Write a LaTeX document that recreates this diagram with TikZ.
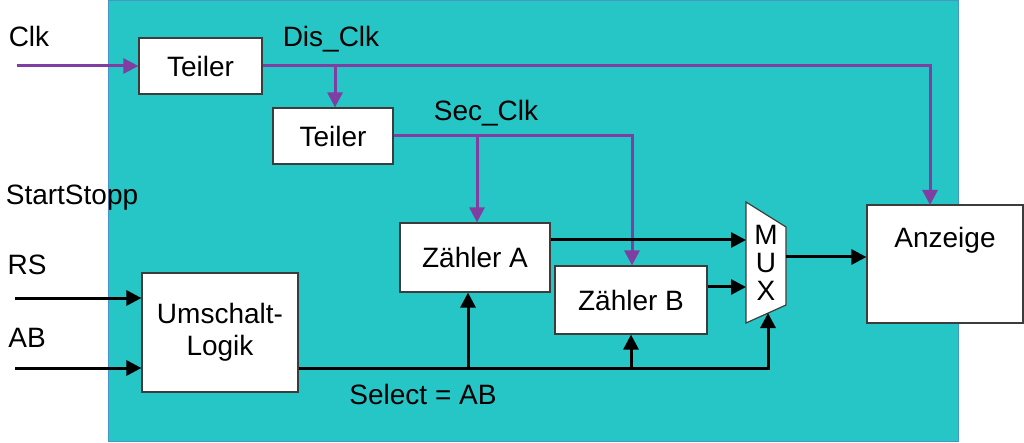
\documentclass[tikz,border=0pt]{standalone}
\usepackage{fontspec}
\setmainfont{Liberation Sans}
\usetikzlibrary{arrows.meta}

\definecolor{tealbg}{RGB}{38,198,198}
\definecolor{tealedge}{RGB}{70,150,200}
\definecolor{clkviolet}{RGB}{128,62,162}
\definecolor{boxedge}{RGB}{60,60,60}

\tikzset{
  blk/.style={draw=boxedge, line width=1.2pt, fill=white, inner sep=0pt},
  wire/.style={line width=3pt},
  sig/.style={wire, -{Triangle[length=15pt,width=15pt]}},
  clk/.style={sig, clkviolet},
  lbl/.style={anchor=base, inner sep=0pt}
}

\begin{document}
\begin{tikzpicture}[x=1pt, y=-1pt, font=\fontsize{28}{32}\selectfont]
  \useasboundingbox (0,0) rectangle (1024,443);

  % Gehaeuse
  \draw[fill=tealbg, draw=tealedge, line width=1pt] (108,1) rectangle (958,441);

  % Bloecke
  \node[blk, minimum width=123pt, minimum height=56pt] (teil1) at (200.5,66) {Teiler};
  \node[blk, minimum width=120pt, minimum height=56pt] (teil2) at (333,136) {Teiler};
  \node[blk, minimum width=150pt, minimum height=69pt] (zaehla) at (475,257.5) {Zähler A};
  \node[blk, minimum width=152pt, minimum height=68pt] (zaehlb) at (631,300) {Zähler B};
  \node[blk, minimum width=156pt, minimum height=119pt, align=center] (umsch) at (220,332.5) {Umschalt-\\Logik};
  \node[blk, minimum width=156pt, minimum height=118pt] (anz) at (945,264) {};
  \node[lbl] (anztxt) at (945,248) {Anzeige};

  % MUX
  \draw[blk] (746,202) -- (786,227) -- (786,305) -- (746,323) -- cycle;
  \node[inner sep=0pt, align=center, font=\fontsize{28}{28}\selectfont] (mux) at (766,262.5) {M\\U\\X};

  % Ein- und Abgriffe
  \coordinate (clkin) at (17,66);
  \coordinate (rsin) at (15,298);
  \coordinate (abin) at (15,368);
  \coordinate (muxa) at (746,240);
  \coordinate (muxb) at (746,287);
  \coordinate (muxout) at (786,257);
  \coordinate (muxsel) at (768,313);
  \coordinate (anzclk) at (930,205);
  \coordinate (clka) at (477,136);
  \coordinate (clkb) at (632,136);
  \coordinate (sela) at (468,368);
  \coordinate (selb) at (631,368);

  % Takte
  \draw[clk] (clkin) -- (teil1.west);
  \draw[clk] (teil1.east) -| (anzclk);
  \draw[clk] (teil1.east -| 335,0) -- (335,0 |- teil2.north);
  \draw[clk] (teil2.east) -| (clkb |- zaehlb.north);
  \draw[clk] (clka) -- (clka |- zaehla.north);

  % Daten
  \draw[sig] (zaehla.east |- muxa) -- (muxa);
  \draw[sig] (zaehlb.east |- muxb) -- (muxb);
  \draw[sig] (muxout) -- (muxout -| anz.west);
  \draw[sig] (rsin) -- (rsin -| umsch.west);
  \draw[sig] (abin) -- (abin -| umsch.west);

  % Select
  \draw[sig] (umsch.east |- abin) -| (muxsel);
  \draw[sig] (sela) -- (sela |- zaehla.south);
  \draw[sig] (selb) -- (selb |- zaehlb.south);

  % Beschriftung
  \node[lbl] (clklbl) at (29,47) {Clk};
  \node[lbl] (dislbl) at (331,47) {Dis\_Clk};
  \node[lbl] (seclbl) at (486,121) {Sec\_Clk};
  \node[lbl] (sslbl) at (72,205) {StartStopp};
  \node[lbl] (rslbl) at (27,275) {RS};
  \node[lbl] (ablbl) at (27,347) {AB};
  \node[lbl] (sellbl) at (423,404) {Select = AB};
\end{tikzpicture}
\end{document}
